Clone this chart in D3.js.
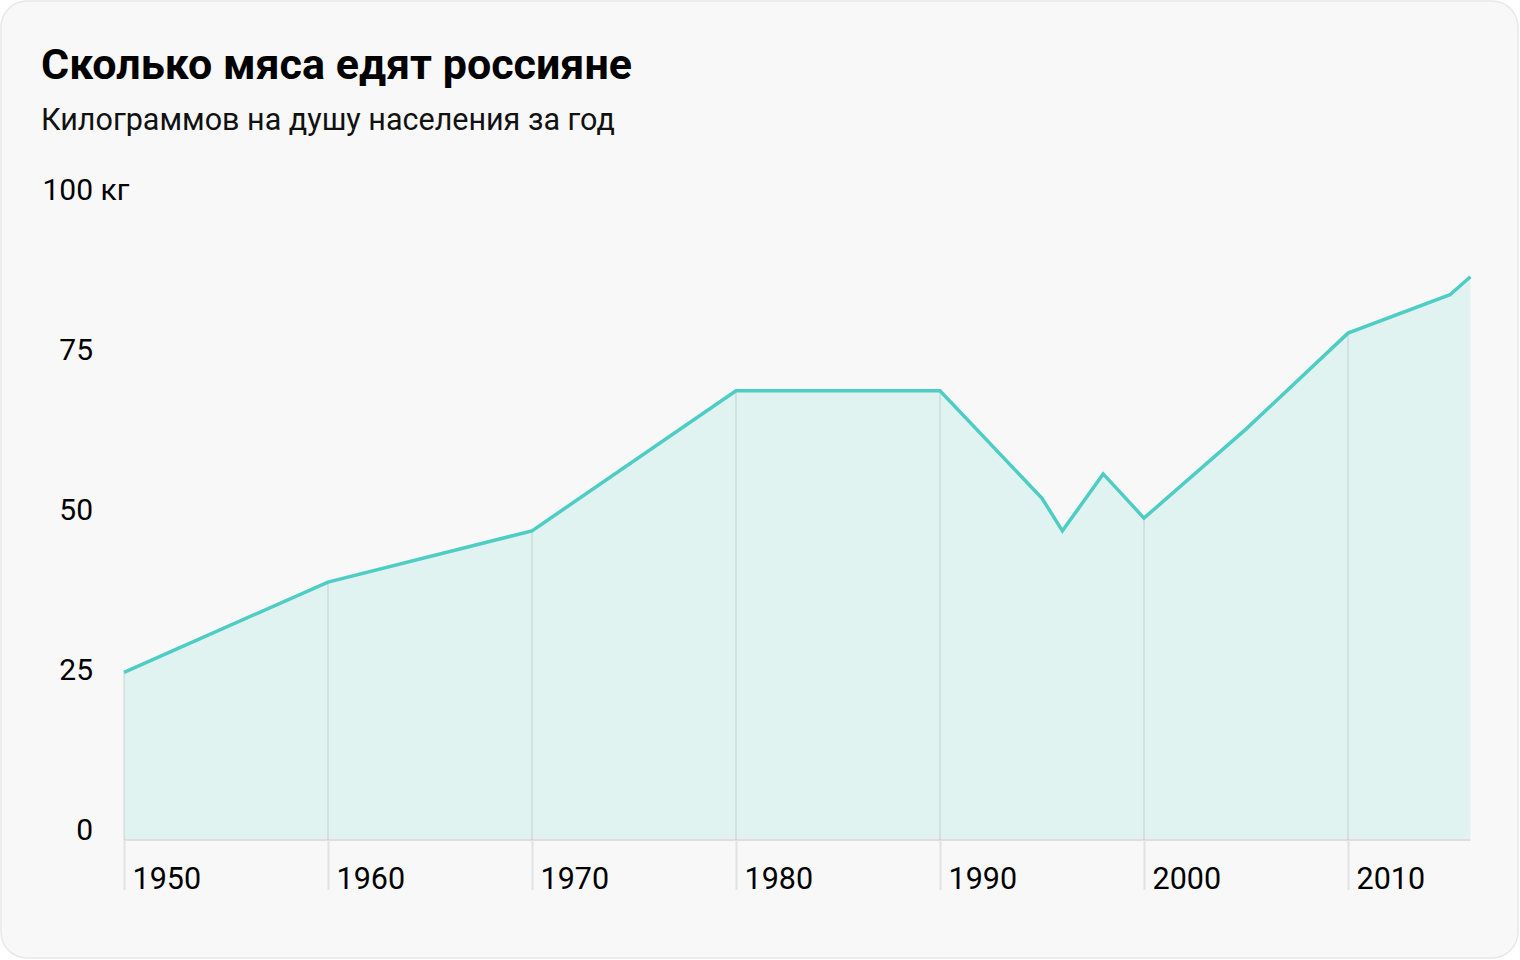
<!DOCTYPE html>
<html>
<head>
<meta charset="utf-8">
<script src="https://cdn.jsdelivr.net/npm/d3@7"></script>
<style>
  html, body { margin: 0; padding: 0; background: #ffffff; }
  svg { display: block; font-family: Roboto, "Noto Sans", sans-serif; }
</style>
</head>
<body>
<svg id="chart" width="1520" height="960"></svg>
<script>
const title = "Сколько мяса едят россияне";
const subtitle = "Килограммов на душу населения за год";
const years = [1950, 1960, 1970, 1980, 1990, 1995, 1996, 1998, 2000, 2005, 2010, 2015, 2016];
const values = [26.2, 40.3, 48.3, 70.2, 70.2, 53.4, 48.3, 57.2, 50.3, 64.2, 79.2, 85.2, 88.0];
const yTicks = [0, 25, 50, 75, 100];
const xTicks = [1950, 1960, 1970, 1980, 1990, 2000, 2010];
const unit = "кг";

const svg = d3.select("#chart");
svg.append("rect").attr("x", 1).attr("y", 1).attr("width", 1517).attr("height", 957)
  .attr("rx", 26).attr("fill", "#f8f8f8").attr("stroke", "#e8e8e8").attr("stroke-width", 1.5);

svg.append("text").attr("x", 41).attr("y", 79).attr("font-size", 43).attr("font-weight", 700)
  .attr("fill", "#000").text(title);
svg.append("text").attr("x", 41).attr("y", 130).attr("font-size", 30.5)
  .attr("fill", "#111").text(subtitle);

const data = years.map((y, i) => ({ year: y, value: values[i] }));
const x = d3.scaleLinear().domain([1950, 2016]).range([124, 1470.4]);
const y = d3.scaleLinear().domain([0, 100]).range([840, 200]);

const area = d3.area().x(d => x(d.year)).y0(y(0)).y1(d => y(d.value));
const line = d3.line().x(d => x(d.year)).y(d => y(d.value));

svg.append("path").datum(data).attr("d", area).attr("fill", "#e0f3f1");

// baseline
svg.append("line").attr("x1", x(1950)).attr("x2", x(2016)).attr("y1", y(0)).attr("y2", y(0))
  .attr("stroke", "#dedede").attr("stroke-width", 2);

// x axis with ticks hanging below
const xAxis = svg.append("g").attr("transform", `translate(0,${y(0)})`)
  .call(d3.axisBottom(x).tickValues(xTicks).tickFormat(d3.format("d")).tickSize(50));
xAxis.select(".domain").remove();
xAxis.selectAll(".tick line").attr("stroke", "#e2e2e2").attr("stroke-width", 2);
xAxis.selectAll(".tick text").attr("text-anchor", "start").attr("x", 8).attr("y", 49).attr("dy", 0)
  .attr("font-size", 30.5).attr("fill", "#000").attr("font-family", "Roboto, sans-serif");

// vertical gridlines inside the area
const valueAt = yr => values[years.indexOf(yr)];
svg.append("g").selectAll("line").data(xTicks).join("line")
  .attr("x1", d => x(d)).attr("x2", d => x(d))
  .attr("y1", y(0)).attr("y2", d => y(valueAt(d)))
  .attr("stroke", "rgba(0,0,0,0.07)").attr("stroke-width", 2);

svg.append("path").datum(data).attr("d", line).attr("fill", "none")
  .attr("stroke", "#4ecdc4").attr("stroke-width", 3.5).attr("stroke-linejoin", "miter");

// y axis labels
const yAxis = svg.append("g").attr("transform", "translate(93,0)")
  .call(d3.axisLeft(y).tickValues(yTicks).tickSize(0).tickPadding(0)
    .tickFormat(d => d === 100 ? `${d} ${unit}` : d));
yAxis.select(".domain").remove();
yAxis.selectAll(".tick text").attr("dy", 0).attr("y", -1).attr("font-size", 30)
  .attr("fill", "#000").attr("font-family", "Roboto, sans-serif");
yAxis.selectAll(".tick text").filter(d => d === 100).each(function() {
  const el = d3.select(this);
  const tmp = yAxis.append("text").attr("font-size", 30).attr("font-family", "Roboto, sans-serif").text("100");
  const w = tmp.node().getComputedTextLength();
  tmp.remove();
  el.attr("text-anchor", "start").attr("x", -w);
});
</script>
</body>
</html>
